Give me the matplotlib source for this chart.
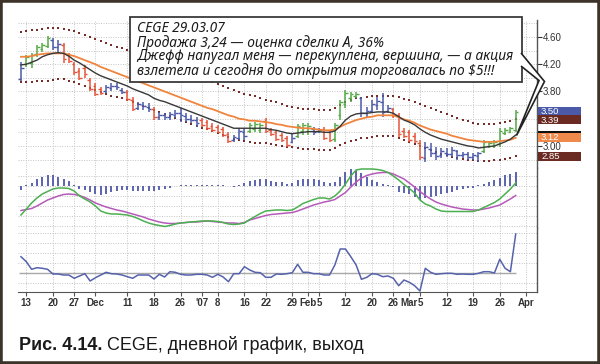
import matplotlib
matplotlib.use('Agg')
import matplotlib.pyplot as plt
from matplotlib.patches import Rectangle, Polygon, PathPatch
from matplotlib.path import Path
import numpy as np

plt.rcParams['font.family'] = ['Liberation Sans', 'DejaVu Sans']

# ---------------- data (daily bars, 10 Nov 2006 .. 29 Mar 2007) ----------------
high = [4.23,4.34,4.37,4.48,4.51,4.62,4.59,4.56,4.51,4.37,
        4.23,4.15,4.19,4.00,3.92,3.87,3.90,3.92,3.92,3.85,
        3.82,3.72,3.65,3.65,3.63,3.57,3.50,3.48,3.50,3.53,
        3.56,3.48,3.46,3.43,3.41,3.38,3.34,3.31,3.28,3.21,
        3.16,3.26,3.26,3.34,3.35,3.34,3.41,3.26,3.23,3.19,
        3.15,3.18,3.32,3.34,3.34,3.28,3.26,3.28,3.23,3.34,
        3.68,3.82,3.79,3.79,3.72,3.57,3.68,3.72,3.78,3.60,
        3.56,3.48,3.26,3.23,3.19,3.09,3.06,3.04,2.99,2.97,
        2.97,2.99,2.94,2.91,2.91,2.90,2.91,3.09,3.06,3.09,
        3.26,3.26,3.28,3.53]
low = [3.95,4.16,4.15,4.31,4.38,4.44,4.41,4.38,4.22,4.22,
       4.04,3.97,4.00,3.81,3.73,3.75,3.78,3.81,3.82,3.76,
       3.66,3.51,3.53,3.53,3.50,3.38,3.38,3.38,3.38,3.41,
       3.35,3.35,3.34,3.28,3.28,3.23,3.21,3.19,3.13,3.04,
       3.06,3.09,3.09,3.19,3.21,3.19,3.19,3.15,3.07,3.06,
       2.99,3.04,3.12,3.16,3.16,3.16,3.19,3.09,3.06,3.06,
       3.38,3.56,3.65,3.70,3.43,3.43,3.48,3.53,3.43,3.48,
       3.41,3.13,3.12,3.06,3.04,2.79,2.76,2.84,2.79,2.82,
       2.84,2.84,2.79,2.82,2.79,2.79,2.76,2.90,2.97,2.97,
       2.99,3.16,3.19,3.21]
open_ = [3.99,4.20,4.22,4.35,4.42,4.47,4.55,4.45,4.48,4.33,
         4.20,4.10,4.15,3.97,3.88,3.84,3.80,3.85,3.88,3.82,
         3.79,3.68,3.56,3.60,3.57,3.55,3.42,3.45,3.42,3.46,
         3.48,3.44,3.40,3.38,3.38,3.35,3.30,3.28,3.25,3.18,
         3.08,3.12,3.20,3.22,3.25,3.24,3.36,3.24,3.20,3.16,
         3.12,3.06,3.15,3.22,3.22,3.25,3.22,3.25,3.20,3.10,
         3.45,3.62,3.70,3.73,3.70,3.48,3.52,3.60,3.65,3.52,
         3.54,3.45,3.22,3.20,3.15,3.05,2.82,2.96,2.90,2.86,
         2.90,2.88,2.92,2.86,2.88,2.84,2.85,2.93,3.00,3.00,
         3.03,3.19,3.21,3.24]
close = [4.15,4.30,4.33,4.45,4.48,4.58,4.45,4.50,4.27,4.25,
         4.08,4.00,4.05,3.84,3.76,3.78,3.86,3.88,3.86,3.79,
         3.69,3.55,3.61,3.58,3.55,3.42,3.46,3.43,3.47,3.49,
         3.45,3.40,3.38,3.33,3.31,3.26,3.23,3.21,3.16,3.07,
         3.13,3.22,3.15,3.31,3.32,3.31,3.22,3.17,3.10,3.08,
         3.02,3.12,3.29,3.31,3.30,3.21,3.24,3.12,3.09,3.31,
         3.64,3.78,3.76,3.77,3.48,3.52,3.62,3.66,3.50,3.56,
         3.45,3.18,3.15,3.09,3.07,2.84,2.98,2.90,2.85,2.92,
         2.88,2.94,2.86,2.88,2.84,2.86,2.89,3.06,3.04,3.06,
         3.22,3.24,3.26,3.50]
# impulse colour of each bar: g = up, r = down, b = neutral
impulse = "bgggggbbrrrrrrrrbbbbrrbbbrbbbbbbbbrrrrrrbbbgggrrrrrbgggbbrrgggggbbbbbbrrrrrrbbbbbbbbbbbggggggg"

ema_fast = [4.19,4.20,4.23,4.26,4.31,4.34,4.36,4.37,4.36,4.32,
            4.26,4.22,4.17,4.12,4.07,4.03,4.00,3.97,3.94,3.91,
            3.88,3.84,3.81,3.78,3.75,3.70,3.67,3.65,3.62,3.59,
            3.56,3.53,3.50,3.47,3.44,3.41,3.38,3.35,3.32,3.29,
            3.26,3.26,3.26,3.26,3.26,3.26,3.26,3.24,3.23,3.21,
            3.19,3.18,3.19,3.20,3.21,3.21,3.21,3.20,3.20,3.22,
            3.29,3.38,3.44,3.47,3.48,3.48,3.49,3.50,3.50,3.50,
            3.48,3.43,3.38,3.35,3.31,3.25,3.20,3.16,3.13,3.10,
            3.08,3.06,3.04,3.02,3.00,2.99,2.97,2.98,2.99,3.00,
            3.03,3.06,3.10,3.16]
ema_slow = [4.31,4.31,4.32,4.34,4.35,4.36,4.36,4.36,4.36,4.34,
            4.32,4.29,4.26,4.23,4.20,4.16,4.13,4.10,4.07,4.04,
            4.01,3.98,3.95,3.92,3.89,3.86,3.83,3.80,3.77,3.74,
            3.71,3.68,3.65,3.62,3.59,3.56,3.54,3.51,3.48,3.45,
            3.43,3.40,3.39,3.37,3.37,3.36,3.35,3.34,3.32,3.31,
            3.29,3.28,3.27,3.26,3.26,3.25,3.24,3.23,3.23,3.24,
            3.28,3.32,3.35,3.38,3.40,3.42,3.43,3.45,3.45,3.45,
            3.45,3.42,3.39,3.37,3.34,3.30,3.27,3.24,3.22,3.20,
            3.18,3.15,3.13,3.11,3.09,3.08,3.07,3.06,3.06,3.06,
            3.07,3.08,3.09,3.12]
upper = [4.67,4.69,4.70,4.71,4.72,4.73,4.73,4.73,4.72,4.71,
         4.69,4.66,4.63,4.60,4.57,4.54,4.51,4.48,4.46,4.44,
         4.41,4.38,4.35,4.32,4.29,4.26,4.23,4.20,4.17,4.15,
         4.12,4.09,4.06,4.03,4.00,3.97,3.94,3.91,3.88,3.85,
         3.82,3.79,3.77,3.75,3.73,3.70,3.68,3.66,3.64,3.62,
         3.59,3.57,3.56,3.55,3.54,3.54,3.53,3.53,3.53,3.56,
         3.60,3.65,3.67,3.70,3.71,3.72,3.73,3.73,3.74,3.74,
         3.73,3.72,3.69,3.67,3.65,3.62,3.59,3.56,3.53,3.50,
         3.47,3.44,3.41,3.38,3.36,3.34,3.32,3.32,3.32,3.32,
         3.34,3.35,3.37,3.39]
lower = [3.94,3.94,3.94,3.95,3.95,3.96,3.97,3.98,3.98,3.96,
         3.94,3.91,3.88,3.85,3.82,3.79,3.76,3.74,3.72,3.70,
         3.67,3.65,3.62,3.59,3.56,3.53,3.50,3.47,3.44,3.41,
         3.38,3.35,3.32,3.29,3.27,3.25,3.22,3.19,3.16,3.13,
         3.10,3.09,3.07,3.06,3.05,3.04,3.04,3.03,3.01,3.00,
         2.99,2.98,2.97,2.96,2.95,2.95,2.94,2.94,2.94,2.97,
         3.01,3.04,3.07,3.09,3.11,3.12,3.13,3.14,3.15,3.15,
         3.14,3.12,3.09,3.06,3.03,3.00,2.97,2.94,2.91,2.88,
         2.86,2.84,2.82,2.81,2.79,2.79,2.78,2.78,2.78,2.79,
         2.79,2.81,2.82,2.85]
macd_hist = [-0.008,0.002,0.006,0.014,0.018,0.022,0.021,0.018,0.014,0.009,
             0.001,-0.007,-0.009,-0.013,-0.017,-0.019,-0.016,-0.012,-0.011,-0.009,
             -0.009,-0.011,-0.011,-0.011,-0.011,-0.011,-0.009,-0.007,-0.005,-0.001,
             0.001,0.001,0.001,0.001,0.001,0.001,0.001,0.001,0.001,-0.001,
             -0.002,0.001,0.005,0.009,0.012,0.013,0.013,0.009,0.007,0.007,
             0.004,0.005,0.011,0.013,0.013,0.013,0.011,0.008,0.005,0.008,
             0.018,0.027,0.033,0.031,0.026,0.018,0.011,0.008,0.003,0.001,
             -0.002,-0.012,-0.015,-0.017,-0.022,-0.028,-0.025,-0.022,-0.020,-0.017,
             -0.015,-0.012,-0.009,-0.007,-0.005,-0.004,0.001,0.003,0.008,0.011,
             0.016,0.021,0.023,0.028]
macd_line = [-0.060,-0.036,-0.012,0.008,0.024,0.034,0.044,0.048,0.048,0.046,
             0.036,0.016,0.004,-0.008,-0.024,-0.044,-0.052,-0.056,-0.056,-0.058,
             -0.060,-0.066,-0.074,-0.084,-0.092,-0.098,-0.102,-0.106,-0.102,-0.096,
             -0.092,-0.090,-0.088,-0.086,-0.084,-0.084,-0.084,-0.086,-0.090,-0.096,
             -0.098,-0.096,-0.092,-0.078,-0.066,-0.054,-0.044,-0.042,-0.040,-0.040,
             -0.042,-0.040,-0.028,-0.014,-0.006,0.002,0.008,0.008,0.004,0.016,
             0.036,0.064,0.096,0.120,0.124,0.124,0.124,0.122,0.118,0.110,
             0.096,0.080,0.062,0.046,0.028,0.000,-0.016,-0.024,-0.036,-0.044,
             -0.046,-0.046,-0.046,-0.046,-0.046,-0.046,-0.040,-0.030,-0.020,-0.010,
             0.004,0.024,0.044,0.068]
signal_line = [-0.042,-0.038,-0.034,-0.024,-0.012,0.000,0.008,0.016,0.022,0.024,
               0.022,0.018,0.010,0.000,-0.012,-0.020,-0.028,-0.034,-0.040,-0.044,
               -0.050,-0.056,-0.062,-0.068,-0.076,-0.082,-0.088,-0.092,-0.094,-0.094,
               -0.092,-0.090,-0.088,-0.088,-0.086,-0.084,-0.086,-0.088,-0.090,-0.092,
               -0.092,-0.094,-0.090,-0.080,-0.074,-0.068,-0.062,-0.058,-0.056,-0.054,
               -0.052,-0.050,-0.044,-0.036,-0.028,-0.020,-0.014,-0.008,-0.004,0.002,
               0.016,0.030,0.052,0.072,0.088,0.098,0.104,0.108,0.110,0.110,
               0.104,0.094,0.084,0.068,0.052,0.034,0.018,0.004,-0.008,-0.016,
               -0.022,-0.028,-0.032,-0.036,-0.038,-0.040,-0.040,-0.036,-0.032,-0.026,
               -0.020,-0.008,0.004,0.018]
force = [166,116,40,56,50,40,-7,-7,-17,-17,
         -50,-27,-4,-77,-44,-17,10,-4,-7,-17,
         -34,-50,-17,-17,-17,-57,-10,-37,16,10,
         -10,-17,-17,-10,-10,-17,-40,-10,-37,-84,
         -4,-4,66,33,10,6,-40,-40,-7,-10,
         -4,6,90,10,10,-4,-4,-17,-17,83,
         243,243,166,83,-60,-40,-4,-10,-34,-27,
         -50,-124,-67,-90,-124,-177,50,10,-10,-4,
         0,0,-10,-7,-10,-10,0,16,16,3,
         140,50,16,393]

tick_pos = [1, 6, 10, 14, 20, 25, 30, 34, 37, 42, 46, 51, 54, 56, 61, 66, 70, 73, 75, 80, 85, 90, 95]
tick_lab = ['13', '20', '27', 'Dec', '11', '18', '26', "'07", '8', '16', '22', '29',
            'Feb', '5', '12', '20', '26', 'Mar', '5', '12', '19', '26', 'Apr']
price_ticks = [3.0, 3.8, 4.2, 4.6]          # 3.40 label is hidden behind the value boxes
price_grid = [2.8, 3.2, 3.4, 3.6, 4.0, 4.4, 4.8]

note_lines = ["CEGE 29.03.07",
              "Продажа 3,24 — оценка сделки А, 36%",
              "Джефф напугал меня — перекуплена, вершина, — а акция",
              "взлетела и сегодня до открытия торговалась по $5!!!"]
caption_bold = "Рис. 4.14."
caption_rest = " CEGE, дневной график, выход"

# ---------------- figure ----------------
W, H = 600, 364
fig = plt.figure(figsize=(6, 3.64), dpi=100)
fig.patch.set_facecolor('white')

def axes_px(x0, y0, x1, y1):
    return fig.add_axes([x0 / W, 1 - y1 / H, (x1 - x0) / W, (y1 - y0) / H])

ax_p = axes_px(18, 20, 537, 168)
ax_m = axes_px(18, 168, 537, 228)
ax_ml = axes_px(18, 168, 537, 228)
ax_f = axes_px(18, 228, 537, 292)

N = len(close)
x = np.arange(N)
GRID = dict(color='#c4c4c4', linestyle=(0, (1, 1.5)), linewidth=0.7)

for ax in (ax_p, ax_m, ax_f):
    ax.set_xlim(-0.56, 97)
    for s in ('top', 'left', 'bottom'):
        ax.spines[s].set_visible(False)
    ax.spines['right'].set_color('#555555')
    ax.spines['right'].set_linewidth(1.0)
    ax.set_xticks(tick_pos)
    ax.grid(True, axis='x', **GRID)
    ax.set_axisbelow(True)
    ax.yaxis.tick_right()
    ax.tick_params(axis='x', length=0, labelbottom=False)

ax_ml.set_xlim(-0.56, 97)
ax_ml.axis('off')
ax_ml.patch.set_alpha(0)

# ---- price panel ----
ax_p.set_ylim(2.676, 4.850)
ax_p.set_yticks(price_ticks)
ax_p.set_yticklabels(['%.2f' % v for v in price_ticks])
ax_p.set_yticks(price_grid, minor=True)
ax_p.grid(True, axis='y', which='both', **GRID)
ax_p.tick_params(axis='y', which='major', length=3.5, width=0.8, color='#333333',
                 pad=0.5, labelsize=7, labelcolor='#333333')
ax_p.tick_params(axis='y', which='minor', length=0)

cmap = {'g': '#55a846', 'r': '#e5553a', 'b': '#4b58a8'}
cols = [cmap[c] for c in impulse]
ax_p.plot(x, upper, ls='none', marker='s', ms=1.5, mew=0, color='#7a2c28', zorder=2)
ax_p.plot(x, lower, ls='none', marker='s', ms=1.5, mew=0, color='#7a2c28', zorder=2)
ax_p.vlines(x, low, high, colors=cols, lw=1.1, zorder=3)
ax_p.hlines(open_, x - 0.5, x, colors=cols, lw=1.0, zorder=3)
ax_p.hlines(close, x, x + 0.5, colors=cols, lw=1.0, zorder=3)
ax_p.plot(x, ema_slow, color='#f0843c', lw=1.3, zorder=4)
ax_p.plot(x, ema_fast, color='#383838', lw=1.0, zorder=4)

# value boxes on the right axis
box_h = 9.0 * (4.850 - 2.676) / 148.0
boxes = [(close[-1], '#4b5aa8'), (upper[-1], '#6b2b22'),
         (ema_fast[-1], '#111111'), (ema_slow[-1], '#f08a4c'),
         (lower[-1], '#6b2b22')]
trans = ax_p.get_yaxis_transform()
bx0 = (537.5 - 18) / 519.0
bw = (581 - 537.5) / 519.0
tx = bx0 + 3.5 / 519.0
for k, (v, c) in enumerate(boxes):
    ax_p.add_patch(Rectangle((bx0, v - box_h / 2), bw, box_h, transform=trans,
                             facecolor=c, edgecolor='none', clip_on=False, zorder=6 + k))
LBL = dict(transform=trans, color='white', fontsize=6.8, ha='left', clip_on=False, zorder=20)
# the two stacked upper labels share one text object (two lines)
ax_p.text(tx, (close[-1] + upper[-1]) / 2, '%.2f\n%.2f' % (close[-1], upper[-1]),
          va='center', linespacing=1.02, **LBL)
ax_p.text(tx, ema_slow[-1], '%.2f' % ema_slow[-1], va='center', **LBL)
ax_p.text(tx, lower[-1], '%.2f' % lower[-1], va='center', **LBL)

# ---- MACD panel ----
ax_m.set_ylim(-0.0846, 0.0354)
ax_m.set_yticks(np.arange(-0.08, 0.03, 0.02))
ax_m.grid(True, axis='y', **GRID)
ax_m.tick_params(axis='y', length=0, labelright=False, labelleft=False)
ax_m.vlines(x, 0, macd_hist, colors='#5b63ae', lw=1.4, zorder=3)
ax_ml.set_ylim(-0.112, 0.128)
ax_ml.plot(x, signal_line, color='#b65ab9', lw=1.1)
ax_ml.plot(x, macd_line, color='#4caf50', lw=1.1)

# ---- force index panel ----
ax_f.set_ylim(-187, 453)
ax_f.set_yticks([-100, 100, 200, 300, 400])
ax_f.grid(True, axis='y', **GRID)
ax_f.tick_params(axis='y', length=0, labelright=False, labelleft=False)
ax_f.hlines(0, -0.3, N - 1, colors='#a8a8a8', lw=1.0, zorder=2)
ax_f.plot(x, force, color='#5662ab', lw=1.1, zorder=3)
ax_f.spines['bottom'].set_visible(True)
ax_f.spines['bottom'].set_color('#555555')
ax_f.set_xticklabels(tick_lab)
ax_f.tick_params(axis='x', length=3, width=0.8, color='#555555', labelbottom=True,
                 labelsize=7, labelcolor='#333333', pad=1.5)
for t in ax_f.get_xticklabels():
    t.set_fontweight('bold')

# ---- annotation box with callout tail ----
def fp(px, py):
    return (px / W, 1 - py / H)

fig.add_artist(Rectangle(fp(130, 82), 392 / W, 65 / H, transform=fig.transFigure,
                         facecolor='white', edgecolor='#3a3a3a', lw=1.3, zorder=10))
tail = [fp(521, 53), fp(544.5, 81.5), fp(516.5, 135.5), fp(539, 80.5), fp(521, 66)]
fig.add_artist(Polygon(tail, closed=True, transform=fig.transFigure,
                       facecolor='white', edgecolor='none', zorder=11))
fig.add_artist(PathPatch(Path(tail), transform=fig.transFigure, fill=False,
                         edgecolor='#222222', lw=1.2, zorder=12))
for k, line in enumerate(note_lines):
    fig.text(137 / W, 1 - (29 + 14 * k) / H, line, fontsize=9.9, style='italic',
             family=['Noto Sans', 'DejaVu Sans'], color='#1a1a1a', va='center',
             ha='left', zorder=13)

# ---- caption ----
t1 = fig.text(19 / W, 1 - 350 / H, caption_bold, fontsize=13, fontweight='bold',
              color='#1a1a1a', va='baseline', ha='left')
fig.canvas.draw()
bb = t1.get_window_extent(fig.canvas.get_renderer())
fig.text(bb.x1 / W, 1 - 350 / H, caption_rest, fontsize=13, color='#1a1a1a',
         va='baseline', ha='left')

# outer frame
fig.add_artist(Rectangle((0, 0), 1, 1, transform=fig.transFigure, fill=False,
                         edgecolor='#3d3329', lw=4, zorder=20))

fig.savefig('out.png', dpi=100, facecolor='white')
